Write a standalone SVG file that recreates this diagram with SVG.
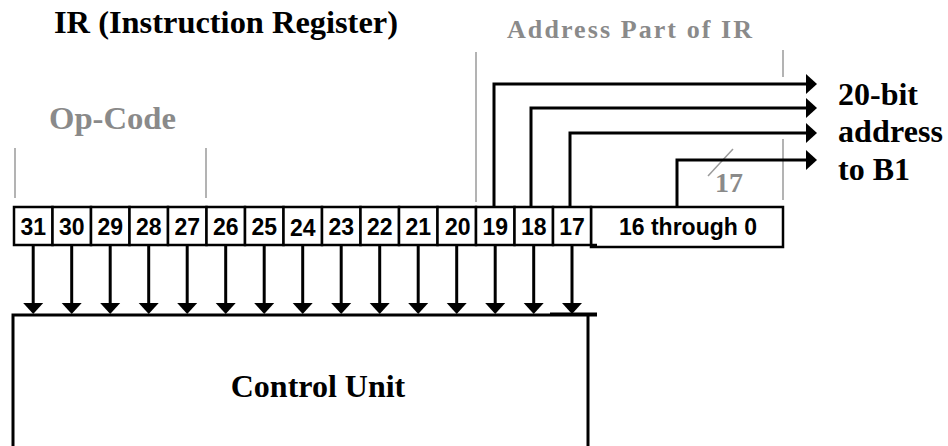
<svg xmlns="http://www.w3.org/2000/svg" width="948" height="446" viewBox="0 0 948 446">
<style>
.serif{font-family:"Liberation Serif","Times New Roman",serif;font-weight:bold}
.sans{font-family:"Liberation Sans",Arial,sans-serif;font-weight:bold;font-size:23px}
.gray{fill:#8a8a8a}
.glines line{stroke:#9a9a9a;stroke-width:1.5}
.cell{fill:#fff;stroke:#000;stroke-width:2.5}
.wire{fill:none;stroke:#000;stroke-width:3}
</style>
<defs>
<marker id="ah" markerUnits="userSpaceOnUse" markerWidth="12" markerHeight="20" refX="0" refY="10" orient="auto" overflow="visible">
<path d="M0,0 L11,10 L0,20 z" fill="#000"/>
</marker>
</defs>
<rect width="948" height="446" fill="#fff"/>
<g id="labels">
<text class="serif" x="54" y="33" font-size="32" textLength="344" lengthAdjust="spacingAndGlyphs">IR (Instruction Register)</text>
<text class="serif gray" x="49" y="129" font-size="32" textLength="127" lengthAdjust="spacingAndGlyphs">Op-Code</text>
<text class="serif gray" x="507" y="38" font-size="26" textLength="245" lengthAdjust="spacing">Address Part of IR</text>
<text class="serif" x="838" y="105" font-size="32">20-bit</text>
<text class="serif" x="838" y="142" font-size="32" textLength="105" lengthAdjust="spacing">address</text>
<text class="serif" x="838" y="180" font-size="32">to B1</text>
<text class="serif gray" x="715" y="192" font-size="28">17</text>
</g>
<g id="brackets" class="glines">
<line x1="15" y1="148" x2="15" y2="198"/>
<line x1="206" y1="148" x2="206" y2="198"/>
<line x1="476" y1="52" x2="476" y2="202"/>
<line x1="783" y1="50" x2="783" y2="77"/>
<line x1="783" y1="139" x2="783" y2="200"/>
<line x1="708" y1="176" x2="733" y2="149"/>
</g>
<g id="control-unit">
<path d="M13,446 V315 H597" fill="none" stroke="#000" stroke-width="3"/>
<path d="M588,315 V446" fill="none" stroke="#000" stroke-width="3"/>
<path d="M550,313.5 H597" stroke="#000" stroke-width="2"/>
<text class="serif" x="318" y="397" font-size="32" text-anchor="middle">Control Unit</text>
</g>
<g id="register">
<rect class="cell" x="591" y="207" width="192" height="40"/>
<text class="sans" x="688" y="235" text-anchor="middle">16 through 0</text>
<g id="bit31"><rect class="cell" x="14" y="207" width="38.5" height="38"/><text class="sans" x="33.2" y="235" text-anchor="middle">31</text></g>
<g id="bit30"><rect class="cell" x="52.5" y="207" width="38.5" height="38"/><text class="sans" x="71.7" y="235" text-anchor="middle">30</text></g>
<g id="bit29"><rect class="cell" x="91" y="207" width="38.5" height="38"/><text class="sans" x="110.2" y="235" text-anchor="middle">29</text></g>
<g id="bit28"><rect class="cell" x="129.5" y="207" width="38.5" height="38"/><text class="sans" x="148.7" y="235" text-anchor="middle">28</text></g>
<g id="bit27"><rect class="cell" x="168" y="207" width="38.5" height="38"/><text class="sans" x="187.2" y="235" text-anchor="middle">27</text></g>
<g id="bit26"><rect class="cell" x="206.5" y="207" width="38.5" height="38"/><text class="sans" x="225.7" y="235" text-anchor="middle">26</text></g>
<g id="bit25"><rect class="cell" x="245" y="207" width="38.5" height="38"/><text class="sans" x="264.2" y="235" text-anchor="middle">25</text></g>
<g id="bit24"><rect class="cell" x="283.5" y="207" width="38.5" height="38"/><text class="sans" x="302.7" y="236" text-anchor="middle">24</text></g>
<g id="bit23"><rect class="cell" x="322" y="207" width="38.5" height="38"/><text class="sans" x="341.2" y="235" text-anchor="middle">23</text></g>
<g id="bit22"><rect class="cell" x="360.5" y="207" width="38.5" height="38"/><text class="sans" x="379.7" y="235" text-anchor="middle">22</text></g>
<g id="bit21"><rect class="cell" x="399" y="207" width="38.5" height="38"/><text class="sans" x="418.2" y="235" text-anchor="middle">21</text></g>
<g id="bit20"><rect class="cell" x="437.5" y="207" width="38.5" height="38"/><text class="sans" x="457.7" y="235" text-anchor="middle">20</text></g>
<g id="bit19"><rect class="cell" x="476" y="207" width="38.5" height="38"/><text class="sans" x="495.2" y="235" text-anchor="middle">19</text></g>
<g id="bit18"><rect class="cell" x="514.5" y="207" width="38.5" height="38"/><text class="sans" x="533.7" y="235" text-anchor="middle">18</text></g>
<g id="bit17"><rect class="cell" x="553" y="207" width="38" height="38"/><text class="sans" x="572" y="235" text-anchor="middle">17</text></g>
<path d="M591,245 H597" stroke="#000" stroke-width="2.5"/>
</g>
<g id="connectors" class="wire">
<path class="wire" d="M33.2,245 V303" marker-end="url(#ah)"/>
<path class="wire" d="M71.7,245 V303" marker-end="url(#ah)"/>
<path class="wire" d="M110.2,245 V303" marker-end="url(#ah)"/>
<path class="wire" d="M148.7,245 V303" marker-end="url(#ah)"/>
<path class="wire" d="M187.2,245 V303" marker-end="url(#ah)"/>
<path class="wire" d="M225.7,245 V303" marker-end="url(#ah)"/>
<path class="wire" d="M264.2,245 V303" marker-end="url(#ah)"/>
<path class="wire" d="M302.7,245 V303" marker-end="url(#ah)"/>
<path class="wire" d="M341.2,245 V303" marker-end="url(#ah)"/>
<path class="wire" d="M379.7,245 V303" marker-end="url(#ah)"/>
<path class="wire" d="M418.2,245 V303" marker-end="url(#ah)"/>
<path class="wire" d="M456.7,245 V303" marker-end="url(#ah)"/>
<path class="wire" d="M495.2,245 V303" marker-end="url(#ah)"/>
<path class="wire" d="M533.7,245 V303" marker-end="url(#ah)"/>
<path class="wire" d="M572,245 V303" marker-end="url(#ah)"/>
<path class="wire" d="M494,207 V84 H806" marker-end="url(#ah)"/>
<path class="wire" d="M531,207 V108 H806" marker-end="url(#ah)"/>
<path class="wire" d="M570,207 V133 H806" marker-end="url(#ah)"/>
<path class="wire" d="M677,207 V160 H806" marker-end="url(#ah)"/>
</g>
</svg>
